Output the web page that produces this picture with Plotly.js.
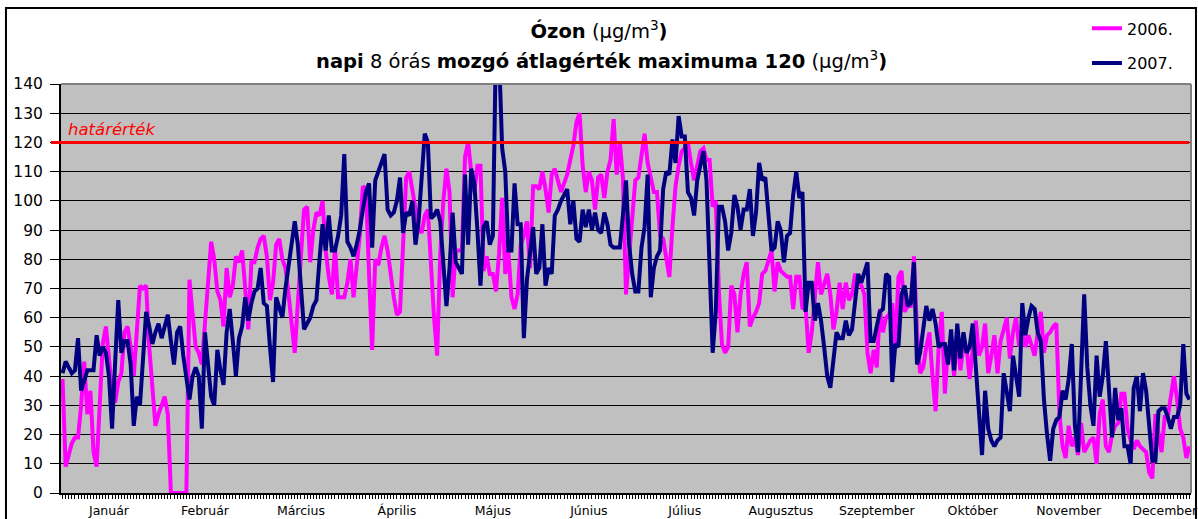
<!DOCTYPE html>
<html>
<head>
<meta charset="utf-8">
<script src="https://cdn.plot.ly/plotly-3.0.1.min.js"></script>
<style>
html,body{margin:0;padding:0;background:#ffffff;overflow:hidden;}
#chart{width:1198px;height:519px;}
</style>
</head>
<body>
<div id="chart"></div>
<script>
// ---- data ----
const monthNames = ['Január','Február','Március','Április','Május','Június','Július','Augusztus','Szeptember','Október','November','December'];
const seriesNames = ['2006.', '2007.'];
const yTicks = [0,10,20,30,40,50,60,70,80,90,100,110,120,130,140];
const limitValue = 120;
const limitLabel = 'határérték';
const titleLine1 = '<b>Ózon</b> (μg/m<sup>3</sup><b>)</b>';
const titleLine2 = '<b>napi</b> 8 órás <b>mozgó átlagérték maximuma 120</b> (μg/m<sup>3</sup><b>)</b>';

// daily values, one row per month
const ozone2006 = [
  39,9,13,17,19,19,30,45,27,35,14,9,30,51,57,45,35,31,38,41,55,57,50,40,55,71,70,71,50,35,23,
  27,30,33,27,0,0,0,0,0,0,73,62,50,48,44,58,72,86,80,69,66,57,77,67,71,81,79,83,
  70,56,79,79,84,87,88,81,66,72,85,87,80,77,68,58,48,65,80,97,98,79,90,96,95,100,83,74,68,84,67,
  67,67,72,80,67,78,88,105,104,75,49,80,78,84,88,83,74,67,61,62,85,108,110,103,96,91,89,95,97,77,
  60,47,82,100,111,103,67,83,83,83,115,120,110,103,112,112,76,81,75,75,69,82,101,75,83,67,63,68,85,88,93,
  77,105,105,104,110,104,96,109,111,107,103,106,109,114,119,127,130,112,103,110,107,97,108,109,101,110,114,128,109,120,
  108,68,82,94,107,108,115,123,113,108,103,103,88,87,80,74,91,105,112,117,118,120,113,107,112,117,118,114,114,98,100,
  69,51,48,50,71,68,55,68,75,79,57,60,62,65,75,76,79,83,69,79,76,75,74,74,63,74,74,63,64,48,55,
  67,79,68,72,75,68,56,62,72,63,72,66,68,75,73,71,68,48,41,49,43,63,55,60,61,65,50,74,76,62,
  64,64,81,55,41,43,50,55,40,28,50,62,34,50,50,40,55,42,50,50,39,48,59,47,50,58,41,47,54,41,52,
  56,60,46,55,60,50,56,50,54,50,47,55,62,48,54,55,57,58,27,16,12,23,16,19,13,24,14,16,18,19,
  10,27,32,16,14,20,23,24,34,34,22,18,15,18,16,15,14,7,5,27,20,14,26,26,33,40,32,22,19,12,16
];
const ozone2007 = [
  41,45,43,41,42,53,35,39,42,42,42,54,47,50,48,40,22,45,66,48,52,52,44,23,33,30,45,62,57,51,55,
  58,53,57,61,52,44,55,57,47,40,32,40,43,40,22,55,44,33,30,49,42,37,55,63,52,40,53,57,
  67,59,65,69,70,77,65,64,50,38,67,64,60,70,78,86,93,85,68,56,58,60,64,66,80,92,83,95,83,83,88,
  95,116,86,84,81,85,90,97,103,106,84,107,110,113,116,97,95,96,100,108,89,96,95,100,85,93,110,123,120,94,
  95,97,93,80,64,77,96,79,77,75,109,85,111,106,90,71,91,93,85,88,155,150,118,110,83,83,106,92,92,53,73,
  82,91,75,77,92,71,77,75,95,97,100,102,104,92,100,87,86,97,91,97,90,96,90,89,96,92,85,84,84,84,
  95,107,85,75,69,69,84,91,109,67,77,81,83,104,110,109,121,113,129,122,122,103,101,95,107,112,117,107,80,48,62,
  98,98,93,83,89,102,98,90,97,97,104,88,96,113,107,108,95,83,84,93,90,79,88,89,102,110,101,103,62,72,72,
  59,65,59,50,40,36,45,55,53,53,59,54,56,65,75,72,75,79,52,52,57,62,63,75,74,38,51,50,68,71,
  64,65,79,44,48,56,64,59,63,58,50,51,51,44,56,42,58,46,55,48,50,58,42,25,13,35,22,18,16,18,19,
  41,35,28,47,40,33,65,54,60,64,63,55,52,32,20,11,22,25,26,35,32,39,51,23,14,40,68,43,30,23,
  47,33,40,52,36,19,36,25,29,16,16,10,36,40,28,41,35,23,11,11,28,29,29,26,22,26,26,30,51,34,32
];

// ---- build ----
const days = ozone2006.map((_, i) => i + 1);
const labelDays = monthNames.map((_, i) => 16 + 31 * i);
const tickText = days.map(d => {
  const k = labelDays.indexOf(d);
  return k >= 0 ? monthNames[k] : ' ';
});

const traces = [
  {x: days, y: ozone2006, type: 'scatter', mode: 'lines', name: seriesNames[0], legendgroup: 'a',
   line: {color: '#ff00ff', width: 4}},
  {x: days, y: ozone2007, type: 'scatter', mode: 'lines', name: seriesNames[1], legendgroup: 'b',
   line: {color: '#000080', width: 4}}
];

const layout = {
  width: 1198, height: 519,
  margin: {l: 61, r: 7, t: 84, b: 26, pad: 0, autoexpand: false},
  paper_bgcolor: '#ffffff',
  plot_bgcolor: '#c0c0c0',
  font: {family: 'DejaVu Sans, sans-serif', color: '#000000'},
  title: {text: titleLine1, x: 0.5, xref: 'container', xanchor: 'center',
          y: 0.94, yref: 'container', yanchor: 'middle', automargin: false,
          font: {family: 'DejaVu Sans, sans-serif', size: 19.5, color: '#000000'}},
  showlegend: true,
  legend: {x: 0.9073, xref: 'container', xanchor: 'left', y: 0.978, yref: 'container', yanchor: 'top',
           font: {family: 'DejaVu Sans, sans-serif', size: 16, color: '#000000'},
           bgcolor: 'rgba(255,255,255,0)', traceorder: 'grouped', tracegroupgap: 11},
  xaxis: {range: [0.5, 365.5], tickmode: 'array', tickvals: days, ticktext: tickText,
          ticks: 'outside', ticklen: 4, tickwidth: 1, tickcolor: '#000000', tickangle: 0,
          showgrid: false, zeroline: false, showline: true, linecolor: '#000000', linewidth: 2,
          tickfont: {family: 'DejaVu Sans, sans-serif', size: 12.5, color: '#000000'},
          ticklabelstandoff: 1, layer: 'below traces', fixedrange: true, automargin: false},
  yaxis: {range: [0, 140], tickmode: 'array', tickvals: yTicks,
          ticks: 'outside', ticklen: 9, tickwidth: 1, tickcolor: '#000000',
          showgrid: true, gridcolor: '#000000', gridwidth: 1, zeroline: false,
          showline: true, linecolor: '#000000', linewidth: 2,
          tickfont: {family: 'DejaVu Sans, sans-serif', size: 15.5, color: '#000000'},
          ticklabelstandoff: 4, layer: 'below traces', fixedrange: true, automargin: false},
  shapes: [
    {type: 'line', xref: 'paper', yref: 'y', x0: -0.0088, x1: 0.9982, y0: limitValue, y1: limitValue,
     line: {color: '#ff0000', width: 3}, layer: 'above'},
    {type: 'line', xref: 'paper', yref: 'paper', x0: 0, x1: 1, y0: 1, y1: 1,
     line: {color: '#808080', width: 2}, layer: 'above'},
    {type: 'line', xref: 'paper', yref: 'paper', x0: 1, x1: 1, y0: 0, y1: 1,
     line: {color: '#808080', width: 2}, layer: 'above'},
    {type: 'rect', xref: 'paper', yref: 'paper', x0: -0.0487, x1: 1.0044, y0: -0.12, y1: 1.1858,
     line: {color: '#000000', width: 2}, fillcolor: 'rgba(0,0,0,0)', layer: 'above'}
  ],
  annotations: [
    {text: titleLine2, xref: 'paper', yref: 'paper', x: 0.4779, y: 1.0587,
     xanchor: 'center', yanchor: 'middle', showarrow: false,
     font: {family: 'DejaVu Sans, sans-serif', size: 19.5, color: '#000000'}},
    {text: '<i>' + limitLabel + '</i>', xref: 'paper', yref: 'y', x: 0.0044, y: 124.3,
     xanchor: 'left', yanchor: 'middle', showarrow: false,
     font: {family: 'DejaVu Sans, sans-serif', size: 16.5, color: '#ff0000'}}
  ]
};

Plotly.newPlot('chart', traces, layout, {staticPlot: true, displayModeBar: false});
</script>
</body>
</html>
